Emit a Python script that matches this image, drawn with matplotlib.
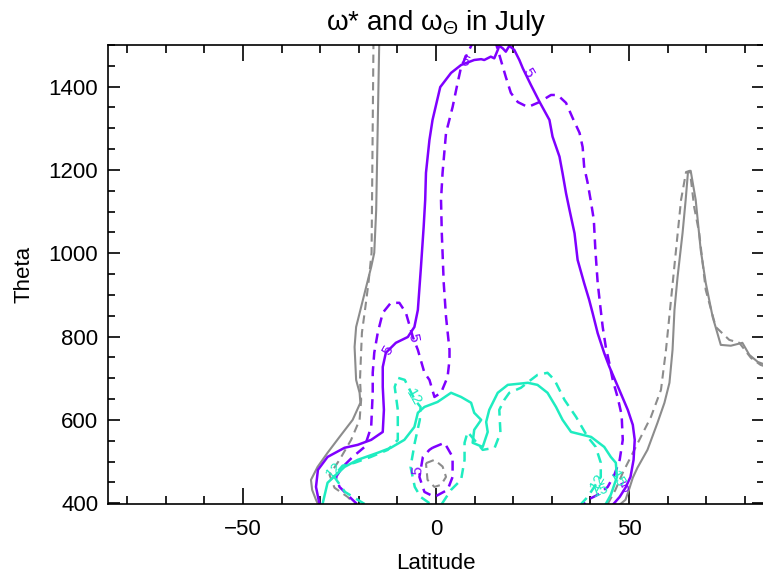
import matplotlib
matplotlib.use("Agg")
import matplotlib.pyplot as plt
import numpy as np
from matplotlib.ticker import MultipleLocator

plt.rcParams['font.family'] = ['Liberation Sans', 'DejaVu Sans']
plt.rcParams['mathtext.fontset'] = 'custom'
plt.rcParams['mathtext.rm'] = 'Liberation Sans'
plt.rcParams['mathtext.it'] = 'Liberation Sans:italic'

# contour lines, (latitude, theta)
gray_solid_w = [(-14.7, 1510), (-15.5, 1104), (-16.0, 1001), (-16.8, 967), (-18.1, 919),
                (-19.4, 871), (-20.7, 823), (-21.1, 775), (-20.7, 696), (-19.8, 665),
                (-19.6, 641), (-21.6, 600), (-25.0, 559), (-28.1, 521), (-30.7, 487),
                (-32.4, 456), (-32.1, 432), (-31.1, 408), (-30.6, 398)]
gray_dash_w = [(-16.2, 1510), (-16.6, 1104), (-16.7, 1001), (-17.5, 929), (-18.3, 871),
               (-19.2, 809), (-19.7, 696), (-19.4, 648), (-19.8, 600), (-22.0, 552),
               (-25.0, 504), (-27.6, 468), (-26.3, 437), (-22.9, 415), (-21.6, 403),
               (-20.8, 398)]
gray_solid_e = [(47.8, 398), (49.1, 408), (50.0, 432), (51.0, 461), (52.2, 485),
                (54.8, 528), (57.4, 593), (59.2, 641), (60.5, 689), (61.3, 768),
                (61.8, 864), (62.6, 943), (63.9, 1049), (64.7, 1128), (65.3, 1195),
                (66.0, 1198), (67.3, 1128), (68.6, 1008), (69.9, 929), (71.7, 847),
                (73.8, 780), (76.4, 778), (79.4, 785), (81.2, 756), (83.4, 739),
                (86.0, 730)]
gray_dash_e = [(44.5, 398), (46.5, 432), (48.4, 473), (51.4, 528), (55.7, 607),
               (58.3, 672), (59.6, 768), (60.9, 888), (62.2, 1008), (63.5, 1128),
               (64.8, 1195), (65.8, 1198), (66.9, 1111), (68.2, 1049), (69.9, 912),
               (72.5, 823), (76.0, 792), (78.6, 785), (81.6, 749), (84.1, 732),
               (86.0, 726)]
gray_dash_eq = [(-2.6, 496), (-0.4, 504), (1.7, 488), (2.6, 463), (1.3, 444),
                (-0.4, 439), (-2.2, 456), (-2.6, 496)]

purple_solid = [(-30.2, 398), (-31.1, 439), (-30.6, 480), (-28.1, 511), (-23.7, 533),
                (-20.3, 540), (-16.8, 552), (-13.8, 571), (-13.5, 624), (-13.8, 679),
                (-13.8, 727), (-13.0, 761), (-10.4, 785), (-7.3, 799), (-5.6, 823),
                (-4.7, 864), (-3.9, 967), (-3.2, 1063), (-2.8, 1128), (-2.6, 1193),
                (-1.7, 1272), (-0.9, 1320), (1.1, 1399), (3.9, 1433), (6.5, 1452),
                (9.9, 1464), (11.7, 1466), (12.5, 1464), (14.2, 1472), (15.1, 1468),
                (16.0, 1488), (16.4, 1498), (17.3, 1492), (18.1, 1484), (19.0, 1498),
                (20.3, 1488), (21.6, 1464), (22.5, 1444), (24.6, 1404), (26.8, 1364),
                (29.4, 1320), (30.2, 1280), (32.0, 1232), (32.8, 1192), (33.7, 1144),
                (34.6, 1104), (35.9, 1048), (36.7, 984), (38.4, 928), (39.7, 888),
                (40.6, 856), (41.9, 808), (43.6, 760), (44.9, 728), (47.5, 672),
                (49.7, 624), (51.0, 588), (51.5, 552), (51.2, 504), (50.4, 463),
                (49.1, 437), (47.6, 415), (46.0, 398)]
purple_dash = [(-20.5, 398), (-22.4, 415), (-25.0, 439), (-25.9, 463), (-24.2, 487),
               (-21.6, 511), (-18.5, 535), (-16.8, 583), (-16.4, 665), (-16.4, 713),
               (-16.0, 761), (-15.1, 809), (-13.8, 857), (-11.7, 881), (-9.5, 881),
               (-7.8, 857), (-6.0, 799), (-4.7, 768), (-3.0, 713), (-1.7, 696),
               (-0.4, 655), (1.3, 665), (3.0, 703), (3.5, 744), (3.5, 768),
               (2.6, 847), (2.0, 929), (1.5, 1049), (1.3, 1128), (1.7, 1193),
               (2.6, 1289), (4.3, 1351), (5.6, 1409), (6.5, 1447), (8.2, 1481),
               (9.5, 1505), (10.8, 1524), (13.4, 1524), (15.5, 1505), (16.8, 1464),
               (18.1, 1423), (19.4, 1385), (21.2, 1363), (23.8, 1351), (26.8, 1363),
               (29.8, 1380), (31.5, 1380), (33.7, 1361), (35.4, 1325), (37.2, 1289),
               (38.0, 1255), (38.4, 1207), (39.3, 1169), (40.2, 1121), (40.9, 1080),
               (41.3, 1008), (41.9, 929), (42.6, 871), (43.2, 823), (44.0, 775),
               (44.9, 737), (45.8, 696), (47.1, 653), (48.1, 612), (48.4, 552),
               (47.6, 504), (46.3, 470), (44.5, 439), (41.9, 420), (39.3, 408),
               (38.3, 398)]
purple_dash_eq = [(-0.9, 533), (2.2, 545), (4.3, 511), (4.3, 463), (3.0, 432),
                  (-0.4, 415), (-3.0, 427), (-4.3, 463), (-3.4, 511), (-1.7, 528),
                  (-0.9, 533)]

cyan_solid = [(-29.4, 398), (-28.1, 449), (-23.7, 487), (-20.3, 504), (-15.1, 521),
              (-11.7, 533), (-8.2, 552), (-5.6, 583), (-4.7, 617), (-3.0, 631),
              (0.4, 643), (3.9, 665), (6.5, 655), (9.1, 641), (9.9, 617),
              (11.7, 600), (9.9, 576), (9.5, 545), (12.1, 535), (13.4, 571),
              (13.0, 595), (13.8, 624), (16.0, 665), (18.6, 684), (23.8, 689),
              (26.3, 684), (28.9, 665), (31.1, 631), (32.8, 600), (35.0, 571),
              (40.2, 559), (43.6, 535), (45.3, 511), (46.6, 497), (46.9, 463),
              (45.3, 420), (44.0, 398)]
cyan_dash_w = [(-18.5, 398), (-23.6, 427), (-26.5, 465), (-24.2, 490), (-21.1, 497),
               (-16.9, 511), (-12.5, 528), (-9.9, 552), (-9.9, 624), (-10.7, 679),
               (-9.9, 701), (-8.1, 696), (-5.5, 648), (-4.0, 631), (-4.2, 600),
               (-5.5, 545), (-6.6, 487), (-5.5, 439), (-4.0, 415), (-1.4, 398)]
cyan_dash_e = [(1.5, 398), (3.9, 432), (6.5, 456), (7.4, 504), (7.4, 545),
               (8.2, 571), (12.1, 528), (15.2, 533), (16.7, 569), (16.4, 624),
               (17.7, 648), (19.0, 665), (22.0, 677), (24.6, 696), (26.3, 708),
               (28.9, 713), (30.7, 696), (33.3, 648), (36.3, 607), (39.3, 559),
               (41.4, 535), (42.7, 497), (42.7, 463), (39.3, 415), (37.6, 398)]

# contour labels: latitude, theta, text, rotation
purple_labels = [(7.4, 1459, '5', -20), (23.8, 1433, '5', -60), (-12.5, 766, '5', 60),
                 (-6.0, 797, '5', -80), (-4.7, 478, '5', 85), (49.1, 437, '5', 20)]
cyan_labels = [(-26.5, 480, '12', 45), (-5.8, 653, '12', -60), (41.9, 451, '12', 60),
               (42.7, 430, '15', 20), (47.1, 456, '15', -60)]

GRAY = '#8c8c8c'
PURPLE = '#7f00ff'
CYAN = '#1eecc0'

fig = plt.figure(figsize=(7.63, 5.76), dpi=100)
ax = fig.add_axes([108 / 763, 72 / 576, 656 / 763, 459 / 576])

def line(pts, color, dashed, lw=1.8):
    a = np.array(pts).T
    if dashed:
        ax.plot(a[0], a[1], color=color, lw=lw, dashes=(4, 2.6))
    else:
        ax.plot(a[0], a[1], color=color, lw=lw)

line(gray_solid_w, GRAY, False, 1.5)
line(gray_dash_w, GRAY, True, 1.5)
line(gray_solid_e, GRAY, False, 1.5)
line(gray_dash_e, GRAY, True, 1.5)
line(gray_dash_eq, GRAY, True, 1.5)
line(purple_solid, PURPLE, False)
line(purple_dash, PURPLE, True)
line(purple_dash_eq, PURPLE, True)
line(cyan_solid, CYAN, False)
line(cyan_dash_w, CYAN, True)
line(cyan_dash_e, CYAN, True)

for x, y, s, r in purple_labels:
    ax.text(x, y, s, color=PURPLE, fontsize=11, rotation=r, ha='center', va='center')
for x, y, s, r in cyan_labels:
    ax.text(x, y, s, color=CYAN, fontsize=11, rotation=r, ha='center', va='center')

ax.set_xlim(-85, 85)
ax.set_ylim(398, 1500)
ax.xaxis.set_major_locator(MultipleLocator(50))
ax.xaxis.set_minor_locator(MultipleLocator(10))
ax.yaxis.set_major_locator(MultipleLocator(200))
ax.yaxis.set_minor_locator(MultipleLocator(50))
ax.tick_params(which='both', direction='in', top=True, right=True, width=1.2, labelsize=16)
ax.tick_params(axis='x', which='major', length=11.5, pad=11)
ax.tick_params(axis='x', which='minor', length=5.8)
ax.tick_params(axis='y', which='major', length=8.6, pad=7)
ax.tick_params(axis='y', which='minor', length=5)
for s in ax.spines.values():
    s.set_linewidth(1.2)

ax.set_xlabel('Latitude', fontsize=16, labelpad=9)
ax.set_ylabel('Theta', fontsize=16, labelpad=10)
ax.set_title('ω* and ω$_{\\mathregular{Θ}}$ in July', fontsize=20, pad=11)

fig.savefig('out.png', dpi=100)
